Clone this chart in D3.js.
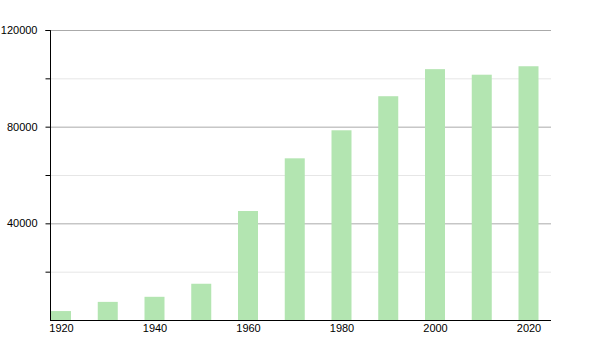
<!DOCTYPE html>
<meta charset="utf-8">
<head>
    <script src="https://d3js.org/d3.v7.min.js"></script>
    <style>
        body { margin: 0; background: #fff; }
        text { font-family: "Liberation Sans", Arial, sans-serif; font-size: 11px; fill: #000; }
    </style>
</head>
<body>
    <svg width="600" height="350"></svg>
    <script>
        // population by census year
        var years = [1920, 1930, 1940, 1950, 1960, 1970, 1980, 1990, 2000, 2010, 2020];
        var population = [3700, 7500, 9600, 15000, 45100, 66900, 78500, 92600, 103800, 101500, 105000];
        var majorTicks = [40000, 80000, 120000];
        var minorTicks = [20000, 60000, 100000];
        var yearLabels = [1920, 1940, 1960, 1980, 2000, 2020];

        var svg = d3.select("svg");

        var x = d3.scaleLinear().domain([1920, 2020]).range([61, 528.5]);
        var y = d3.scaleLinear().domain([0, 120000]).range([320, 30]);
        var barWidth = 20;

        // minor grid lines
        svg.append("g").selectAll("line")
            .data(minorTicks)
            .enter().append("line")
            .attr("x1", 50).attr("x2", 551)
            .attr("y1", d => y(d) + 0.5).attr("y2", d => y(d) + 0.5)
            .style("stroke", "#e6e6e6");

        // major grid lines
        svg.append("g").selectAll("line")
            .data(majorTicks)
            .enter().append("line")
            .attr("x1", 50).attr("x2", 551)
            .attr("y1", d => y(d) + 0.5).attr("y2", d => y(d) + 0.5)
            .style("stroke", "#aaaaaa");

        // bars
        svg.append("g").selectAll("rect")
            .data(years)
            .enter().append("rect")
            .attr("x", d => x(d) - barWidth / 2)
            .attr("width", barWidth)
            .attr("y", (d, i) => y(population[i]))
            .attr("height", (d, i) => y(0) - y(population[i]))
            .style("fill", "#b3e5b1");

        // y axis
        var yAxis = d3.axisLeft(y)
            .tickValues(majorTicks.concat(minorTicks))
            .tickSize(5)
            .tickPadding(8)
            .tickFormat(d => majorTicks.includes(d) ? d : "");
        var gy = svg.append("g")
            .attr("transform", "translate(50.5,0)")
            .call(yAxis);
        gy.select(".domain").attr("d", "M-5,30.5H0V320.5");
        gy.selectAll("text").style("font-family", "Liberation Sans, Arial, sans-serif").style("font-size", "11px");

        // x axis
        var xAxis = d3.axisBottom(x)
            .tickValues(yearLabels)
            .tickSize(0)
            .tickPadding(4)
            .tickFormat(d3.format("d"));
        var gx = svg.append("g")
            .attr("transform", "translate(0,320.5)")
            .call(xAxis);
        gx.select(".domain").attr("d", "M50,0H551");
        gx.selectAll("text").style("font-family", "Liberation Sans, Arial, sans-serif").style("font-size", "11px");
    </script>
</body>
